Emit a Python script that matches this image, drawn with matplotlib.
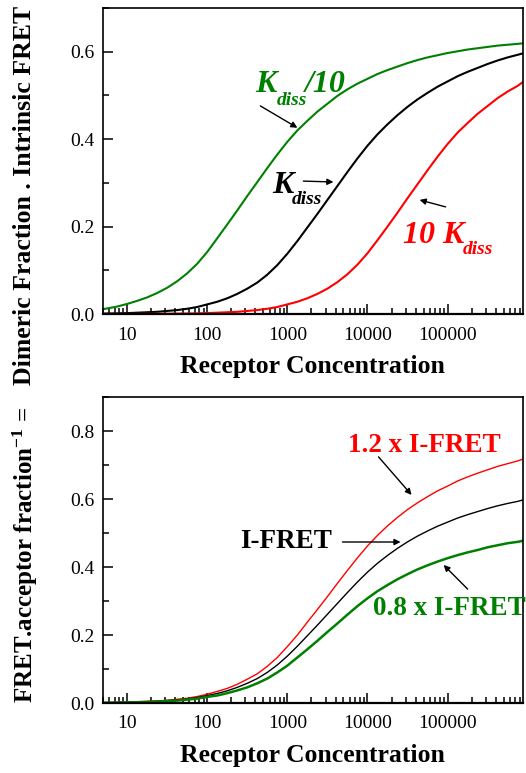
import matplotlib
matplotlib.use("Agg")
import matplotlib.pyplot as plt
from matplotlib.ticker import LogLocator, FixedLocator, MultipleLocator, FuncFormatter

plt.rcParams['font.family'] = ['Liberation Serif', 'DejaVu Serif']
plt.rcParams['mathtext.fontset'] = 'custom'
plt.rcParams['mathtext.rm'] = 'Liberation Serif:bold'
plt.rcParams['mathtext.it'] = 'Liberation Serif:bold:italic'
plt.rcParams['mathtext.bf'] = 'Liberation Serif:bold'

# receptor concentration grid (eighth decades)
conc = [5, 7.5, 10, 13.3, 17.8, 23.7, 31.6, 42.2, 56.2, 75, 100, 133, 178, 237, 316, 422,
        562, 750, 1000, 1334, 1778, 2371, 3162, 4217, 5623, 7499, 10000, 13335, 17783,
        23714, 31623, 42170, 56234, 74989, 100000, 133352, 177828, 237137, 316228,
        421697, 562341, 749894, 860000]

# top panel: dimeric fraction * intrinsic FRET
top_kd_10 = [0.011, 0.017, 0.023, 0.030, 0.038, 0.048, 0.060, 0.075, 0.093, 0.115, 0.142,
             0.173, 0.205, 0.237, 0.270, 0.302, 0.334, 0.365, 0.394, 0.420, 0.442, 0.463,
             0.481, 0.499, 0.514, 0.527, 0.538, 0.549, 0.558, 0.566, 0.574, 0.581, 0.587,
             0.592, 0.597, 0.601, 0.605, 0.608, 0.611, 0.614, 0.616, 0.618, 0.619]
top_kd = [0.001, 0.0015, 0.002, 0.003, 0.004, 0.005, 0.007, 0.009, 0.012, 0.016, 0.022,
          0.028, 0.036, 0.046, 0.058, 0.072, 0.090, 0.112, 0.138, 0.167, 0.198, 0.229,
          0.261, 0.293, 0.325, 0.356, 0.385, 0.411, 0.434, 0.455, 0.474, 0.491, 0.506,
          0.520, 0.532, 0.544, 0.554, 0.563, 0.572, 0.580, 0.587, 0.593, 0.596]
top_10kd = [0.0001, 0.0002, 0.0002, 0.0003, 0.0004, 0.0005, 0.0007, 0.0009, 0.0012, 0.0015,
            0.002, 0.003, 0.004, 0.005, 0.007, 0.009, 0.012, 0.016, 0.022, 0.028, 0.036,
            0.046, 0.058, 0.073, 0.091, 0.113, 0.139, 0.169, 0.200, 0.232, 0.265, 0.297,
            0.329, 0.360, 0.389, 0.415, 0.437, 0.458, 0.476, 0.494, 0.509, 0.522, 0.530]

# bottom panel: I-FRET and scaled versions
bot_ifret = [0.001, 0.0015, 0.002, 0.003, 0.004, 0.005, 0.007, 0.009, 0.012, 0.016, 0.022,
             0.028, 0.036, 0.046, 0.058, 0.072, 0.090, 0.112, 0.138, 0.167, 0.198, 0.229,
             0.261, 0.293, 0.325, 0.356, 0.385, 0.411, 0.434, 0.455, 0.474, 0.491, 0.506,
             0.520, 0.532, 0.544, 0.554, 0.563, 0.572, 0.580, 0.587, 0.593, 0.597]
bot_12 = [0.001, 0.002, 0.002, 0.004, 0.005, 0.006, 0.008, 0.011, 0.014, 0.019, 0.026,
          0.034, 0.043, 0.055, 0.070, 0.086, 0.108, 0.134, 0.166, 0.200, 0.238, 0.275,
          0.313, 0.352, 0.390, 0.427, 0.462, 0.493, 0.521, 0.546, 0.569, 0.589, 0.607,
          0.624, 0.638, 0.653, 0.665, 0.676, 0.686, 0.696, 0.704, 0.712, 0.717]
bot_08 = [0.001, 0.001, 0.002, 0.002, 0.003, 0.004, 0.006, 0.007, 0.010, 0.013, 0.018,
          0.022, 0.029, 0.037, 0.046, 0.058, 0.072, 0.090, 0.110, 0.134, 0.158, 0.183,
          0.209, 0.234, 0.260, 0.285, 0.308, 0.329, 0.347, 0.364, 0.379, 0.393, 0.405,
          0.416, 0.426, 0.435, 0.443, 0.450, 0.458, 0.464, 0.470, 0.474, 0.477]

x_ticks = [10, 100, 1000, 10000, 100000]
GREEN = '#008000'
RED = '#ff0000'
W, H = 526, 773

fig = plt.figure(figsize=(5.26, 7.73), dpi=100)
ax1 = fig.add_axes([103 / W, 1 - 314 / H, 419.5 / W, 306 / H])
ax2 = fig.add_axes([103 / W, 1 - 703 / H, 419.5 / W, 306 / H])


def style_axes(ax, ymax, yticks):
    ax.set_xscale('log')
    ax.set_xlim(5, 860000)
    ax.set_ylim(0, ymax)
    ax.xaxis.set_major_locator(FixedLocator(x_ticks))
    ax.xaxis.set_minor_locator(LogLocator(base=10, subs=range(2, 10), numticks=20))
    ax.xaxis.set_major_formatter(FuncFormatter(lambda v, p: '%d' % round(v)))
    ax.set_yticks(yticks)
    ax.set_yticklabels(['%.1f' % t for t in yticks])
    ax.yaxis.set_minor_locator(MultipleLocator(0.1))
    ax.tick_params(which='both', direction='in', top=False, right=False,
                   labelsize=14, width=1.1)
    ax.tick_params(which='major', length=7)
    ax.tick_params(which='minor', length=4)
    ax.tick_params(axis='x', pad=9)
    ax.tick_params(axis='y', pad=6)
    for s in ax.spines.values():
        s.set_linewidth(1.2)
    ax.spines['bottom'].set_linewidth(1.6)
    ax.set_xlabel('Receptor Concentration', fontsize=18.5, fontweight='bold', labelpad=8)


def label(px, py, s, color, size):
    # bold italic label placed by pixel position (left, baseline)
    fig.text(px / W, 1 - py / H, s, color=color, fontsize=size, fontweight='bold',
             fontstyle='italic', va='baseline', ha='left')


arrow = dict(arrowstyle='-|>', color='black', lw=1.0, mutation_scale=9,
             shrinkA=0, shrinkB=0)

# top panel
ax1.plot(conc, top_kd_10, color=GREEN, lw=1.5)
ax1.plot(conc, top_kd, color='black', lw=1.5)
ax1.plot(conc, top_10kd, color=RED, lw=1.5)
style_axes(ax1, 0.7, [0.0, 0.2, 0.4, 0.6])

label(255, 92, 'K', GREEN, 23)
label(277, 105, 'diss', GREEN, 14)
label(305, 92, '/10', GREEN, 23)
ax1.annotate('', xy=(1334, 0.426), xytext=(460, 0.476), arrowprops=arrow)
label(272, 193, 'K', 'black', 23)
label(292, 204, 'diss', 'black', 14)
ax1.annotate('', xy=(3758, 0.302), xytext=(1585, 0.304), arrowprops=arrow)
label(403, 243, '10 K', RED, 23)
label(463, 254, 'diss', RED, 14)
ax1.annotate('', xy=(44668, 0.261), xytext=(94400, 0.245), arrowprops=arrow)

# bottom panel
ax2.plot(conc, bot_12, color=RED, lw=1.0)
ax2.plot(conc, bot_ifret, color='black', lw=1.0)
ax2.plot(conc, bot_08, color=GREEN, lw=1.8)
style_axes(ax2, 0.9, [0.0, 0.2, 0.4, 0.6, 0.8])

ax2.text(5786, 0.738, '1.2 x I-FRET', color=RED, fontsize=19.5, fontweight='bold')
ax2.annotate('', xy=(35481, 0.612), xytext=(13725, 0.724), arrowprops=arrow)
ax2.text(258, 0.456, 'I-FRET', color='black', fontsize=19.5, fontweight='bold')
ax2.annotate('', xy=(25860, 0.4735), xytext=(4870, 0.4735), arrowprops=arrow)
ax2.text(11548, 0.259, '0.8 x I-FRET', color=GREEN, fontsize=19.5, fontweight='bold',
         clip_on=False)
ax2.annotate('', xy=(89125, 0.406), xytext=(177828, 0.335), arrowprops=arrow)

# y label split across the two panels
fig.text(25 / W, 1 - 195 / H, 'Dimeric Fraction . Intrinsic FRET', rotation=90,
         ha='center', va='center', fontsize=18.5, fontweight='bold')
fig.text(25 / W, 1 - 555 / H, r'FRET.acceptor fraction$^{\mathbf{-1}}$ =', rotation=90,
         ha='center', va='center', fontsize=18, fontweight='bold')

fig.savefig('out.png', dpi=100)
